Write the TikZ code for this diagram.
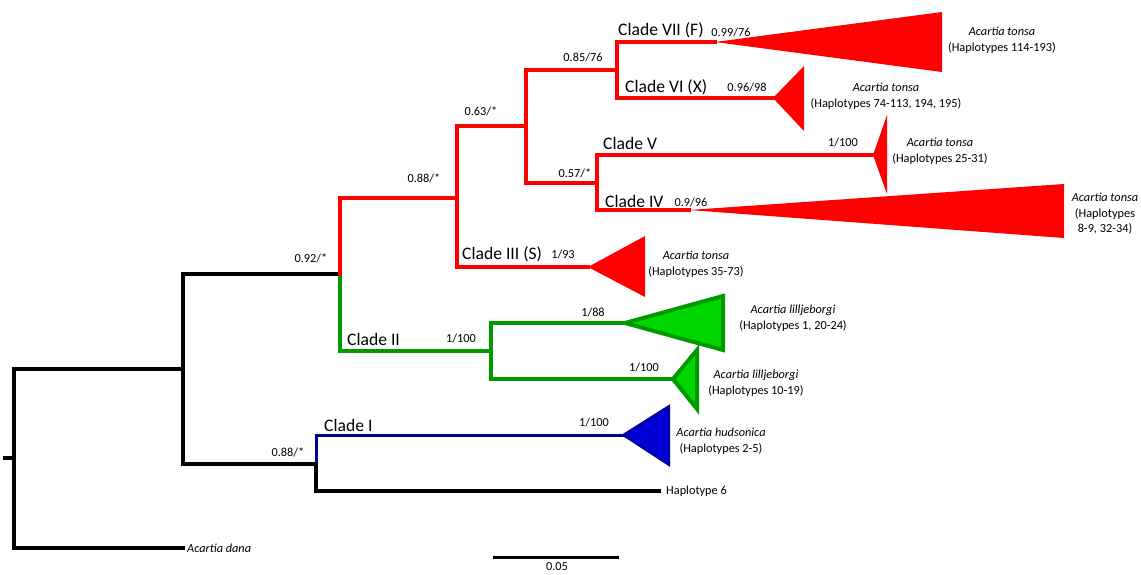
\documentclass[tikz,border=0pt]{standalone}
\usepackage{fontspec}
\setmainfont{Carlito}
\definecolor{cladered}{RGB}{255,0,0}
\definecolor{cladegreen}{RGB}{0,153,0}
\definecolor{cladegreenfill}{RGB}{0,214,0}
\definecolor{cladeblue}{RGB}{0,0,150}
\definecolor{cladebluefill}{RGB}{0,0,214}
\tikzset{
  branch/.style={line width=4pt, line cap=rect},
  cladename/.style={anchor=west, inner sep=0pt, font=\fontsize{17.6}{20}\selectfont},
  support/.style={inner sep=0pt, font=\fontsize{12.3}{14}\selectfont},
  taxon/.style={inner sep=0pt, align=center, font=\fontsize{12.3}{15.5}\selectfont},
}
\begin{document}
\begin{tikzpicture}[x=1pt, y=-1pt]
	\useasboundingbox (0,0) rectangle (1141,574);
	% tree nodes
	\coordinate (stub) at (5,458);
	\coordinate (root) at (14,458);
	\coordinate (ingroup) at (183,369);
	\coordinate (dana) at (183,548);
	\coordinate (upper) at (340,274);
	\coordinate (lower) at (316,464);
	\coordinate (tonsa) at (457,198);
	\coordinate (lill) at (491,351);
	\coordinate (nD) at (526,126);
	\coordinate (nE) at (617,70);
	\coordinate (nF) at (597,183);
	\coordinate (hap6) at (659,491);
	% collapsed clade tips
	\coordinate (tVII) at (715,42);
	\coordinate (tVI) at (773,98);
	\coordinate (tV) at (873,155);
	\coordinate (tIV) at (689,210);
	\coordinate (tIII) at (588,267);
	\coordinate (tIIa) at (625,323);
	\coordinate (tIIb) at (673,379);
	\coordinate (tI) at (623,435);

	\fill[cladered] (tVII) -- (942,12) -- (942,72) -- cycle;
	\fill[cladered] (tVI) -- (804,66) -- (804,131) -- cycle;
	\fill[cladered] (tV) -- (887,115) -- (887,194) -- cycle;
	\fill[cladered] (tIV) -- (1064,184) -- (1064,238) -- cycle;
	\fill[cladered] (tIII) -- (645,236) -- (645,297) -- cycle;
	\filldraw[fill=cladegreenfill, draw=cladegreen, line width=4pt] (tIIa) -- (723,296) -- (723,350) -- cycle;
	\filldraw[fill=cladegreenfill, draw=cladegreen, line width=4pt] (tIIb) -- (697,350) -- (697,409) -- cycle;
	\filldraw[fill=cladebluefill, draw=cladeblue, line width=2pt] (tI) -- (669,406) -- (669,465) -- cycle;

	\draw[branch, cladeblue, line width=3pt] (tI) -| (lower);
	\draw[branch] (root) -- (stub);
	\draw[branch] (ingroup) -| (root);
	\draw[branch] (dana) -| (root);
	\draw[branch] (upper) -| (ingroup);
	\draw[branch] (lower) -| (ingroup);
	\draw[branch] (hap6) -| (lower);
	\draw[branch, cladegreen] (lill) -| (upper);
	\draw[branch, cladegreen] (tIIa) -| (lill);
	\draw[branch, cladegreen] (tIIb) -| (lill);
	\draw[branch, cladered] (tonsa) -| (upper);
	\draw[branch, cladered] (nD) -| (tonsa);
	\draw[branch, cladered] (tIII) -| (tonsa);
	\draw[branch, cladered] (nE) -| (nD);
	\draw[branch, cladered] (nF) -| (nD);
	\draw[branch, cladered] (tVII) -| (nE);
	\draw[branch, cladered] (tVI) -| (nE);
	\draw[branch, cladered] (tV) -| (nF);
	\draw[branch, cladered] (tIV) -| (nF);

	\node[cladename] (cVII) at (618,30) {Clade VII (F)};
	\node[cladename] (cVI) at (625,87) {Clade VI (X)};
	\node[cladename] (cV) at (603,143) {Clade V};
	\node[cladename] (cIV) at (605,201) {Clade IV};
	\node[cladename] (cIII) at (462,254) {Clade III (S)};
	\node[cladename] (cII) at (347,339) {Clade II};
	\node[cladename] (cI) at (324,425) {Clade I};

	\node[support] (sVII) at (731,32) {0.99/76};
	\node[support] (sVI) at (747,87) {0.96/98};
	\node[support] (sV) at (843,142) {1/100};
	\node[support] (sIV) at (691,202) {0.9/96};
	\node[support] (sIII) at (563,254) {1/93};
	\node[support] (sE) at (583,57) {0.85/76};
	\node[support] (sD) at (481,111) {0.63/*};
	\node[support] (sF) at (575,173) {0.57/*};
	\node[support] (stonsa) at (424,178) {0.88/*};
	\node[support] (supper) at (311,258) {0.92/*};
	\node[support] (slill) at (461,338) {1/100};
	\node[support] (sIIa) at (593,312) {1/88};
	\node[support] (sIIb) at (644,367) {1/100};
	\node[support] (sI) at (594,422) {1/100};
	\node[support] (slower) at (288,452) {0.88/*};

	\node[taxon] (xVII) at (1002,40) {\textit{Acartia tonsa}\\(Haplotypes 114-193)};
	\node[taxon] (xVI) at (886,96) {\textit{Acartia tonsa}\\(Haplotypes 74-113, 194, 195)};
	\node[taxon] (xV) at (940,151) {\textit{Acartia tonsa}\\(Haplotypes 25-31)};
	\node[taxon] (xIV) at (1105,214) {\textit{Acartia tonsa}\\(Haplotypes\\8-9, 32-34)};
	\node[taxon] (xIII) at (696,264) {\textit{Acartia tonsa}\\(Haplotypes 35-73)};
	\node[taxon] (xIIa) at (793,318) {\textit{Acartia lilljeborgi}\\(Haplotypes 1, 20-24)};
	\node[taxon] (xIIb) at (756,383) {\textit{Acartia lilljeborgi}\\(Haplotypes 10-19)};
	\node[taxon] (xI) at (721,441) {\textit{Acartia hudsonica}\\(Haplotypes 2-5)};
	\node[taxon, anchor=west] (xhap6) at (666,491) {Haplotype 6};
	\node[taxon, anchor=west] (xdana) at (187,548) {\textit{Acartia dana}};

	\coordinate (barl) at (493,557);
	\coordinate (barr) at (619,557);
	\draw[line width=3pt] (barl) -- (barr);
	\node[support] (barlabel) at (557,567) {0.05};
\end{tikzpicture}
\end{document}
